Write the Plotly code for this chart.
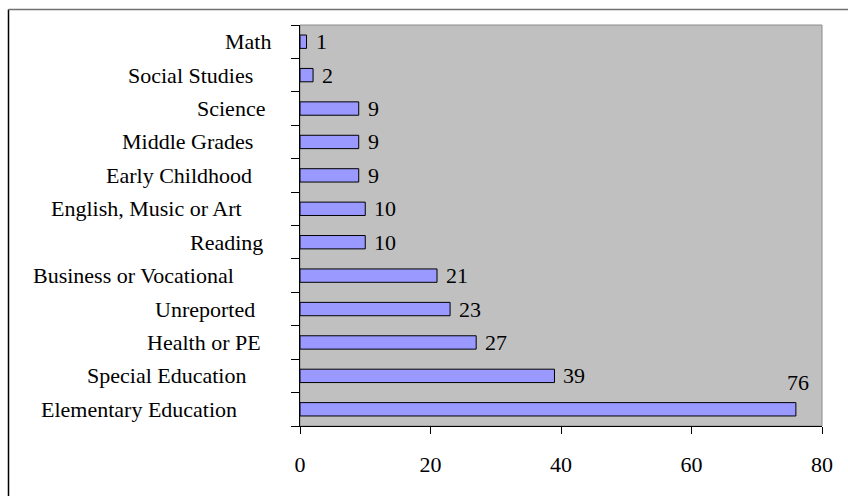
import plotly.graph_objects as go

# Subject areas, listed bottom-to-top as drawn on the category axis
categories = [
    "Elementary Education",
    "Special Education",
    "Health or PE",
    "Unreported",
    "Business or Vocational",
    "Reading",
    "English, Music or Art",
    "Early Childhood",
    "Middle Grades",
    "Science",
    "Social Studies",
    "Math",
]
counts = [76, 39, 27, 23, 21, 10, 10, 9, 9, 9, 2, 1]

x_ticks = [0, 20, 40, 60, 80]

# Horizontal offset (px) of each category label's right edge from the axis
label_offsets = [-61, -52, -37, -43, -64, -35, -56, -46, -45, -33, -45, -27]

W, H = 848, 496
M_L, M_R, M_T, M_B = 300, 26, 25, 70
FONT = "Liberation Serif"
FS = 22

fig = go.Figure(
    go.Bar(
        x=counts,
        y=categories,
        orientation="h",
        marker=dict(color="#9999FF", line=dict(color="#000000", width=1)),
        hoverinfo="skip",
    )
)

annotations = []
# Category labels
for cat, off in zip(categories, label_offsets):
    annotations.append(dict(
        x=0, y=cat, xref="x", yref="y", text=cat, showarrow=False,
        xanchor="right", yanchor="middle", xshift=off,
        font=dict(family=FONT, size=FS, color="#000000"),
    ))
# Value labels
for i, (cat, v) in enumerate(zip(categories, counts)):
    if v == max(counts):
        annotations.append(dict(
            x=v, y=cat, xref="x", yref="y", text=str(v), showarrow=False,
            xanchor="center", yanchor="middle", xshift=2, yshift=27,
            font=dict(family=FONT, size=FS, color="#000000"),
        ))
    else:
        annotations.append(dict(
            x=v, y=cat, xref="x", yref="y", text=str(v), showarrow=False,
            xanchor="left", yanchor="middle", xshift=7,
            font=dict(family=FONT, size=FS, color="#000000"),
        ))

pw = W - M_L - M_R
ph = H - M_T - M_B
def px_x(p):
    return (p - M_L) / pw
def px_y(p):
    return 1 - (p - M_T) / ph

shapes = [
    # plot-area frame
    dict(type="rect", xref="paper", yref="paper", x0=0, x1=1, y0=0, y1=1,
         line=dict(color="#8C8C8C", width=1), layer="below"),
    # chart-area border (left and top edges)
    dict(type="line", xref="paper", yref="paper",
         x0=px_x(8.5), x1=px_x(8.5), y0=px_y(9.5), y1=px_y(H + 5),
         line=dict(color="#000000", width=1.5)),
    dict(type="line", xref="paper", yref="paper",
         x0=px_x(8.5), x1=px_x(W + 5), y0=px_y(9.5), y1=px_y(9.5),
         line=dict(color="#707070", width=1.5)),
]

fig.update_layout(
    width=W, height=H,
    margin=dict(l=M_L, r=M_R, t=M_T, b=M_B, pad=0),
    paper_bgcolor="#FFFFFF",
    plot_bgcolor="#C0C0C0",
    bargap=0.6,
    showlegend=False,
    font=dict(family=FONT, size=FS, color="#000000"),
    xaxis=dict(
        range=[0, 80], tickvals=x_ticks, ticktext=[str(t) for t in x_ticks],
        showgrid=False, zeroline=False,
        showline=True, linecolor="#000000", linewidth=1,
        ticks="outside", ticklen=7, tickcolor="#000000", tickwidth=1,
        ticklabelstandoff=12,
        tickfont=dict(family=FONT, size=FS, color="#000000"),
        fixedrange=True,
    ),
    yaxis=dict(
        type="category", categoryorder="array", categoryarray=categories,
        showgrid=False, zeroline=False,
        showline=True, linecolor="#000000", linewidth=1,
        ticks="outside", ticklen=8, tickcolor="#000000", tickwidth=1,
        tickson="boundaries", showticklabels=False,
        fixedrange=True,
    ),
    annotations=annotations,
    shapes=shapes,
)

fig.write_html("out.html")
